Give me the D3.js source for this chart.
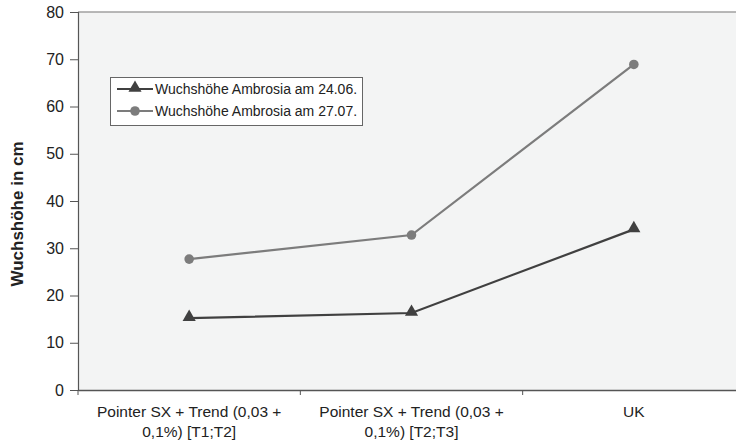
<!DOCTYPE html>
<html><head><meta charset="utf-8">
<script src="https://cdn.jsdelivr.net/npm/d3@7/dist/d3.min.js"></script>
<style>body{margin:0;background:#fff;}svg{display:block;font-family:"Liberation Sans",Arial,sans-serif;}</style>
</head><body>
<svg id="c" width="736" height="444"></svg>
<script>
const categories = [["Pointer SX + Trend (0,03 +", "0,1%) [T1;T2]"], ["Pointer SX + Trend (0,03 +", "0,1%) [T2;T3]"], ["UK"]];
const catKeys = ["A", "B", "UK"];
const seriesNames = ["Wuchshöhe Ambrosia am 24.06.", "Wuchshöhe Ambrosia am 27.07."];
const series1 = [15.2, 16.3, 34.0];
const series2 = [27.7, 32.8, 68.9];
const yTicks = [0, 10, 20, 30, 40, 50, 60, 70, 80];
const yTitle = "Wuchshöhe in cm";

const svg = d3.select("#c");
const m = {l: 78, t: 12, r: 745, b: 390};
const x = d3.scaleBand().domain(catKeys).range([m.l, m.r]).padding(0);
const y = d3.scaleLinear().domain([0, 80]).range([m.b, m.t]);

svg.append("rect").attr("x", m.l).attr("y", m.t).attr("width", m.r - m.l).attr("height", m.b - m.t)
  .attr("fill", "#f3f4f4");
svg.append("line").attr("x1", m.l).attr("x2", m.r).attr("y1", m.t).attr("y2", m.t)
  .attr("stroke", "#a0a0a0").attr("stroke-width", 1.5);

// y axis
const ya = svg.append("g").attr("transform", `translate(${m.l},0)`)
  .call(d3.axisLeft(y).tickValues(yTicks).tickSize(8).tickPadding(6));
ya.select(".domain").attr("stroke", "#555").attr("stroke-width", 1.2);
ya.selectAll(".tick line").attr("stroke", "#555");
ya.selectAll("text").attr("font-size", 16).attr("fill", "#222").attr("font-family", "Liberation Sans, Arial, sans-serif");

// x axis
const xa = svg.append("g").attr("transform", `translate(0,${m.b})`)
  .call(d3.axisBottom(x).tickSize(0).tickFormat(""));
xa.select(".domain").attr("stroke", "#555").attr("stroke-width", 1.5);
const bounds = catKeys.map(k => x(k)).concat([m.r]);
xa.selectAll(".bt").data(bounds).enter().append("line").attr("class", "bt")
  .attr("x1", d => d).attr("x2", d => d).attr("y1", 0).attr("y2", 5).attr("stroke", "#555");
catKeys.forEach((k, i) => {
  const t = xa.append("text").attr("x", x(k) + x.bandwidth() / 2).attr("y", 27)
    .attr("text-anchor", "middle").attr("font-size", 15.5).attr("fill", "#222");
  categories[i].forEach((ln, j) => t.append("tspan").attr("x", x(k) + x.bandwidth() / 2).attr("dy", j ? 20 : 0).text(ln));
});

// y title
svg.append("text").attr("transform", `translate(23,${214}) rotate(-90)`)
  .attr("text-anchor", "middle").attr("font-size", 17).attr("font-weight", "bold").attr("fill", "#222").text(yTitle);

const cx = (d, i) => x(catKeys[i]) + x.bandwidth() / 2;
const line = d3.line().x((d, i) => cx(d, i)).y(d => y(d));
const c1 = "#404040", c2 = "#7c7c7c";
const tri = d3.symbol().type(d3.symbolTriangle).size(75);

svg.append("path").attr("d", line(series2)).attr("fill", "none").attr("stroke", c2).attr("stroke-width", 2.2);
svg.selectAll(".p2").data(series2).enter().append("circle").attr("cx", cx).attr("cy", d => y(d)).attr("r", 4.8).attr("fill", c2);
svg.append("path").attr("d", line(series1)).attr("fill", "none").attr("stroke", c1).attr("stroke-width", 2.2);
svg.selectAll(".p1").data(series1).enter().append("path").attr("d", tri)
  .attr("transform", (d, i) => `translate(${cx(d, i)},${y(d) - 1})`).attr("fill", c1);

// legend
const lg = svg.append("g");
lg.append("rect").attr("x", 110.5).attr("y", 77.5).attr("width", 252).attr("height", 48)
  .attr("fill", "#fff").attr("stroke", "#666");
[[c1, "tri"], [c2, "circ"]].forEach(([c, s], i) => {
  const yy = 89 + i * 22;
  lg.append("line").attr("x1", 117).attr("x2", 153).attr("y1", yy).attr("y2", yy).attr("stroke", c).attr("stroke-width", 2.2);
  if (s === "tri") lg.append("path").attr("d", tri).attr("transform", `translate(135,${yy - 1})`).attr("fill", c);
  else lg.append("circle").attr("cx", 135).attr("cy", yy).attr("r", 4.8).attr("fill", c);
  lg.append("text").attr("x", 155).attr("y", yy + 5).attr("font-size", 14).attr("fill", "#222").text(seriesNames[i]);
});
</script>
</body></html>
